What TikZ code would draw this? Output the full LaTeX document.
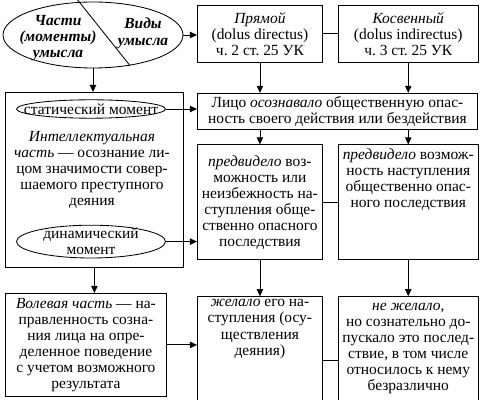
\documentclass[tikz,border=0pt]{standalone}
\usepackage{fontspec}
\setmainfont{Liberation Serif}
\usetikzlibrary{shapes.geometric, arrows.meta, positioning}
\newcommand{\bodyfont}{\fontsize{11}{11.4}\selectfont}
\newcommand{\toptext}[3]{\parbox[c][#1][t]{#2}{\centering #3}}
\tikzset{
  box/.style={
    rectangle, draw, line width=0.6pt, align=center,
    font=\bodyfont, inner sep=2pt
  },
  oval/.style={ellipse, draw, line width=0.6pt, inner sep=0pt},
  moment/.style={rectangle, inner sep=0pt, align=center, font=\bodyfont},
  title/.style={font=\fontsize{11}{11.6}\selectfont\bfseries\itshape, align=center, inner sep=0pt},
  arrow/.style={-{Triangle[length=5pt, width=4.5pt]}, line width=0.6pt},
  link/.style={line width=0.6pt},
}

\begin{document}
\begin{tikzpicture}
\useasboundingbox (0,0) rectangle (12,-10);

%% ---- KINDS OF INTENT ----
\node[oval, minimum width=4.5cm, minimum height=1.65cm] (intent) at (2.325,-0.875) {};
\draw[link] ([xshift=-0.4cm, yshift=0.06cm]intent.north) -- ([xshift=0.925cm, yshift=0.07cm]intent.south);
\node[title] (parts) at (1.45,-0.95) {Части\\(моменты)\\умысла};
\node[title] (kinds) at (3.575,-0.83) {Виды\\умысла};

\node[box, anchor=north west, minimum width=3.125cm, minimum height=1.425cm] (direct) at (4.925,-0.125)
  {\textit{Прямой}\\(dolus directus)\\ч.~2 ст.~25 УК};
\node[box, right=0.375cm of direct, minimum width=3.5cm, minimum height=1.425cm] (indirect)
  {\textit{Косвенный}\\(dolus indirectus)\\ч.~3 ст.~25 УК};
\draw[arrow] (intent.east) -- (intent.east -| direct.west);
\draw[link] (direct) -- (indirect);

%% ---- INTELLECTUAL PART ----
\node[box, below=0.75cm of direct.south west, anchor=north west, minimum width=7cm, minimum height=0.875cm] (aware)
  {Лицо \textit{осознавало} общественную опас-\\ность своего действия или бездействия};
\node[box, anchor=north west, minimum width=4.45cm, minimum height=4.375cm] (intel) at (0.125,-2.3) {};

\node[moment, minimum width=3.725cm] (static) at (2.275,-2.725) {статический момент};
\draw[link] (static.center) ellipse [x radius=1.8625cm, y radius=0.23cm];
\node[moment] (intelText) at (2.3,-4.25)
  {\textit{Интеллектуальная}\\\textit{часть} — осознание ли-\\цом значимости совер-\\шаемого преступного\\деяния};
\node[moment, minimum width=3.725cm] (dynamic) at (2.275,-6.04) {динамический\\момент};
\draw[link] (dynamic.center) ellipse [x radius=1.8625cm, y radius=0.41cm];

\draw[arrow] (intent.south) -- (intent.south |- intel.north);
\draw[arrow] (direct.south) -- (direct.south |- aware.north);
\draw[arrow] (indirect.south) -- (indirect.south |- aware.north);
\draw[arrow] (static.east) -- (static.east -| aware.west);

\node[box, below=0.375cm of aware.south west, anchor=north west, minimum width=3.125cm, minimum height=2.875cm] (fore1)
  {\textit{предвидело} воз-\\можность или\\неизбежность на-\\ступления обще-\\ственно опасного\\последствия};
\node[box, right=0.375cm of fore1, minimum width=3.5cm, minimum height=2.875cm] (fore2)
  {\toptext{2.7cm}{3.3cm}{\textit{предвидело} возмож-\\ность наступления\\общественно опас-\\ного последствия}};
\draw[arrow] (aware.south -| fore1.north) -- (fore1.north);
\draw[arrow] (aware.south -| fore2.north) -- (fore2.north);
\draw[arrow] (dynamic.east) -- (dynamic.east -| fore1.west);
\draw[link] (fore1) -- (fore2);

%% ---- VOLITIONAL PART ----
\node[box, anchor=north west, minimum width=4.025cm, minimum height=2.575cm] (will) at (0.125,-7.325)
  {\textit{Волевая часть} — на-\\правленность созна-\\ния лица на опре-\\деленное поведение\\с учетом возможного\\результата};
\node[box, below=0.9cm of fore1.south west, anchor=north west, minimum width=3.125cm, minimum height=2.6cm] (desire)
  {\toptext{2.45cm}{2.95cm}{\textit{желало} его на-\\ступления (осу-\\ществления\\деяния)}};
\node[box, right=0.375cm of desire, minimum width=3.5cm, minimum height=2.6cm] (nodesire)
  {\textit{не желало},\\но сознательно до-\\пускало это послед-\\ствие, в том числе\\относилось к нему\\безразлично};

\draw[arrow] (intel.south) -- (intel.south |- will.north);
\draw[arrow] (fore1.south) -- (desire.north);
\draw[arrow] (fore2.south) -- (nodesire.north);
\draw[arrow] (will.east) -- (will.east -| desire.west);
\draw[link] ([yshift=-0.3cm]desire.east) -- ([yshift=-0.3cm]nodesire.west);

\end{tikzpicture}
\end{document}
